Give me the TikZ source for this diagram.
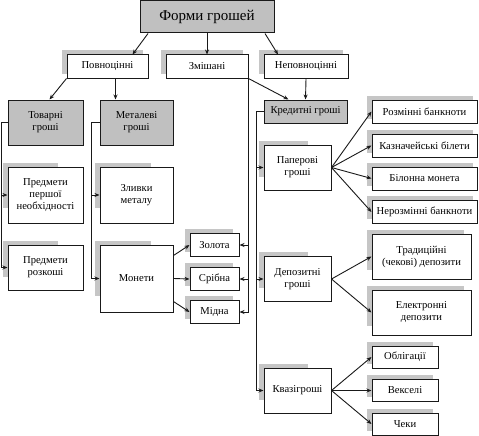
\documentclass[tikz,border=0pt]{standalone}
\usepackage{fontspec}
\setmainfont{Liberation Serif}
\usepackage{tikz}
\usetikzlibrary{calc,arrows.meta,backgrounds}
\definecolor{formGray}{RGB}{192,192,192}
\definecolor{shadowGray}{RGB}{198,198,198}
\definecolor{lineDark}{RGB}{25,25,25}

\begin{document}
\begin{tikzpicture}[x=1pt,y=-1pt,
  box/.style={draw=lineDark, line width=1pt, fill=white, inner sep=1pt, align=center,
    font=\fontsize{10.6}{12}\selectfont},
  graybox/.style={box, fill=formGray},
  arr/.style={lineDark, line width=0.9pt, -{Stealth[length=5pt,width=4pt]}}]
\useasboundingbox (0,0) rectangle (479,436);

\node[graybox, minimum width=134pt, minimum height=32pt, font=\fontsize{15}{17}\selectfont] (forms) at (207,17) {Форми грошей};

\node[box, minimum width=81pt, minimum height=23pt] (full) at (107.5,66.5) {Повноцінні};
\node[box, minimum width=82pt, minimum height=23pt] (mixed) at (207,66.5) {Змішані};
\node[box, minimum width=84pt, minimum height=23pt] (partial) at (306,66.5) {Неповноцінні};

\node[graybox, minimum width=75pt, minimum height=45pt] (goods) at (45.5,122.5) {Товарні\\гроші};
\node[graybox, minimum width=73pt, minimum height=45pt] (metal) at (136.5,122.5) {Металеві\\гроші};
\node[graybox, minimum width=83pt, minimum height=23pt] (credit) at (305.5,111.5) {Кредитні гроші};

\node[box, minimum width=75pt, minimum height=56pt] (first) at (45.5,195) {Предмети\\першої\\необхідності};
\node[box, minimum width=75pt, minimum height=45pt] (luxury) at (45.5,267.5) {Предмети\\розкоші};
\node[box, minimum width=73pt, minimum height=56pt] (ingot) at (136.5,195) {Зливки\\металу};
\node[box, minimum width=73pt, minimum height=67pt] (coins) at (136.5,278.5) {Монети};

\node[box, minimum width=49pt, minimum height=23pt] (gold) at (214.5,245) {Золота};
\node[box, minimum width=49pt, minimum height=23pt] (silver) at (214.5,279) {Срібна};
\node[box, minimum width=49pt, minimum height=23pt] (copper) at (214.5,312) {Мідна};

\node[box, minimum width=67pt, minimum height=45pt] (paper) at (297.5,167.5) {Паперові\\гроші};
\node[box, minimum width=67pt, minimum height=45pt] (deposit) at (297.5,279) {Депозитні\\гроші};
\node[box, minimum width=67pt, minimum height=45pt] (quasi) at (297.5,390.5) {Квазігроші};

\node[box, minimum width=105pt, minimum height=23pt] (notes) at (424.5,111.5) {Розмінні банкноти};
\node[box, minimum width=105pt, minimum height=23pt] (treasury) at (424.5,145.5) {Казначейські білети};
\node[box, minimum width=105pt, minimum height=23pt] (billon) at (424.5,178.5) {Білонна монета};
\node[box, minimum width=105pt, minimum height=23pt] (fiat) at (424.5,212) {Нерозмінні банкноти};

\node[box, minimum width=99pt, minimum height=45pt] (cheque) at (421.5,256.5) {Традиційні\\(чекові) депозити};
\node[box, minimum width=99pt, minimum height=45pt] (electronic) at (421.5,312.5) {Електронні\\депозити};

\node[box, minimum width=66pt, minimum height=22pt] (bonds) at (405,357) {Облігації};
\node[box, minimum width=66pt, minimum height=22pt] (bills) at (405,390.5) {Векселі};
\node[box, minimum width=66pt, minimum height=22pt] (cheques) at (405,424) {Чеки};

\begin{scope}[on background layer]
\foreach \n/\sw/\sh in {full/81/23, mixed/82/23, partial/84/23, first/55/45, luxury/55/36,
    ingot/56/45, coins/56/55, gold/48/23, silver/48/23, copper/48/23, paper/49/36,
    deposit/49/36, quasi/49/36, notes/106/23, treasury/106/23, billon/106/23, fiat/106/23,
    cheque/97/40, electronic/97/40, bonds/66/22, bills/66/22, cheques/66/22}
  \fill[shadowGray] ($(\n.north west)+(-5,-4)$) rectangle ++(\sw,\sh);
\end{scope}

\draw[arr] ($(forms.south)+(-59,0)$) -- ($(full.north)+(25,0)$);
\draw[arr] (forms.south) -- (mixed.north);
\draw[arr] ($(forms.south)+(58,0)$) -- ($(partial.north)+(-28,0)$);

\draw[arr] (full.south west) -- ($(goods.north)+(4,0)$);
\draw[arr] ($(full.south)+(8,0)$) -- ($(metal.north)+(-21,0)$);
\draw[arr] (mixed.south east) -- ($(credit.north)+(-17,0)$);
\draw[arr] (partial.south) -- (credit.north);

\draw[arr] (goods.west) -- ++(-6,0) coordinate (gbus) |- (luxury.west);
\draw[arr] (gbus |- first.west) -- (first.west);
\draw[arr] (metal.west) -- ++(-8,0) coordinate (mbus) |- (coins.west);
\draw[arr] (mbus |- ingot.west) -- (ingot.west);

\draw[arr] ($(coins.east)+(0,-23)$) -- (gold.west);
\draw[arr] (coins.east) -- (silver.west);
\draw[arr] ($(coins.east)+(0,23)$) -- (copper.west);

\draw[arr] (mixed.south east) |- (copper.east);
\draw[arr] (gold.east -| mixed.south east) -- (gold.east);
\draw[arr] (silver.east -| mixed.south east) -- (silver.east);

\draw[arr] (credit.west) -- ++(-7,0) coordinate (cbus) |- (quasi.west);
\draw[arr] (cbus |- paper.west) -- (paper.west);
\draw[arr] (cbus |- deposit.west) -- (deposit.west);

\foreach \t in {notes,treasury,billon,fiat}
  \draw[arr] (paper.east) -- (\t.west);
\foreach \t in {cheque,electronic}
  \draw[arr] (deposit.east) -- (\t.west);
\foreach \t in {bonds,bills,cheques}
  \draw[arr] (quasi.east) -- (\t.west);
\end{tikzpicture}
\end{document}
